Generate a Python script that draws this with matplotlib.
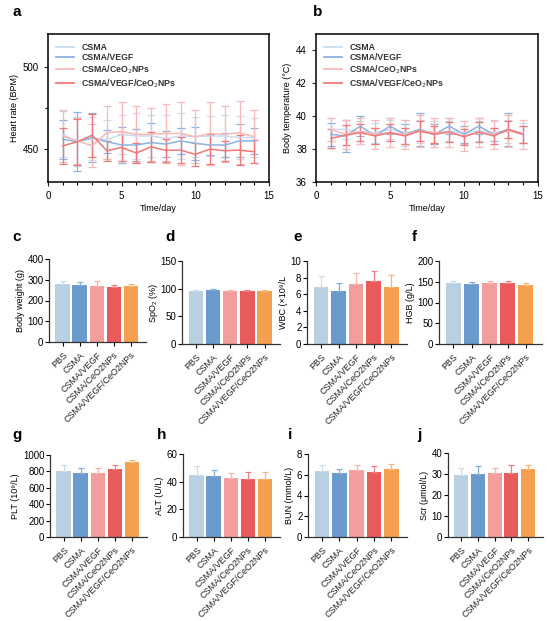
import matplotlib
matplotlib.use("Agg")
import matplotlib.pyplot as plt
from matplotlib.lines import Line2D
from matplotlib.ticker import MultipleLocator

plt.rcParams['font.family'] = ['Liberation Sans', 'DejaVu Sans']

W, H = 550, 621

# ---- data ----
days = list(range(1, 15))
series_names = ["CSMA", "CSMA/VEGF", "CSMA/CeO$_2$NPs", "CSMA/VEGF/CeO$_2$NPs"]
line_colors = ["#c9dcef", "#8db1e0", "#f8b9b9", "#f07878"]

hr_csma = [459, 454.5, 456.5, 455.7, 459, 458, 458, 456.5, 458, 457.5, 458, 458, 457, 457]
hr_vegf = [456, 454.5, 457, 454.5, 452.5, 452.5, 454, 453, 455, 453.5, 452.5, 452.5, 455, 455]
hr_ceo2 = [458, 455, 452, 460, 460.6, 459, 459, 459.5, 459.5, 457.5, 459.5, 459, 460, 457.5]
hr_vegf_ceo2 = [452, 454.5, 458.5, 449, 451, 447.6, 451.4, 449.2, 449.4, 446.8, 450, 449, 449.4, 448.4]
hr_csma_err = [14, 15, 13, 12, 12, 14, 13, 14, 14, 12, 12, 13, 13, 12]
hr_vegf_err = [12, 18, 15, 7, 11, 10, 12, 8, 8, 10, 6, 7, 10, 8]
hr_ceo2_err = [16, 14, 13, 16, 18, 17, 16, 18, 19, 16, 19, 17, 19, 16]
hr_vegf_ceo2_err = [11, 14, 13, 6, 8, 6, 9, 7, 8, 7, 9, 6, 9, 7]

bt_csma = [39.2, 39.2, 39.0, 39.0, 39.2, 39.0, 39.1, 39.0, 39.1, 39.0, 39.1, 39.0, 39.1, 39.0]
bt_vegf = [38.9, 38.8, 39.4, 38.8, 39.4, 38.9, 39.2, 38.9, 39.4, 38.9, 39.4, 38.9, 39.2, 38.9]
bt_ceo2 = [39.2, 38.9, 39.1, 38.9, 39.0, 38.9, 39.1, 39.0, 39.0, 38.8, 39.0, 38.9, 39.1, 38.9]
bt_vegf_ceo2 = [38.65, 38.85, 39.0, 38.8, 39.0, 38.8, 39.1, 38.9, 39.05, 38.75, 39.05, 38.8, 39.2, 38.9]
bt_csma_err = [0.7, 0.6, 0.7, 0.6, 0.6, 0.8, 0.7, 0.7, 0.6, 0.7, 0.6, 0.7, 0.7, 0.6]
bt_vegf_err = [0.7, 1.0, 0.6, 0.5, 0.5, 0.6, 1.0, 0.6, 0.5, 0.5, 0.5, 0.4, 1.0, 0.5]
bt_ceo2_err = [0.7, 0.9, 0.8, 0.9, 0.9, 0.9, 1.0, 0.9, 0.9, 0.9, 0.9, 0.9, 1.0, 0.9]
bt_vegf_ceo2_err = [0.6, 0.6, 0.5, 0.5, 0.5, 0.5, 0.6, 0.5, 0.6, 0.5, 0.6, 0.5, 0.5, 0.5]

groups = ["PBS", "CSMA", "CSMA/VEGF", "CSMA/CeO2NPs", "CSMA/VEGF/CeO2NPs"]
bar_colors = ["#b8d0e2", "#6a9bcc", "#f49d9d", "#e95b5b", "#f5a04e"]
err_colors = ["#c9dcec", "#86aedb", "#f6b3b3", "#ef8080", "#f7b878"]

body_weight = [278, 273, 271, 267, 268]
body_weight_err = [15, 18, 22, 8, 10]
spo2 = [96, 97, 96, 96, 96]
spo2_err = [1, 2, 1, 2, 1]
wbc = [6.9, 6.35, 7.2, 7.65, 6.85]
wbc_err = [1.3, 1.05, 1.35, 1.2, 1.5]
hgb = [147, 145, 148, 146, 143]
hgb_err = [5, 5, 4, 5, 4]
plt_count = [810, 785, 780, 825, 910]
plt_err = [65, 55, 60, 50, 35]
alt = [44.5, 44, 43, 42, 42]
alt_err = [6.5, 4.5, 3.5, 5, 5]
bun = [6.4, 6.15, 6.45, 6.3, 6.55]
bun_err = [0.55, 0.4, 0.45, 0.5, 0.5]
scr = [29.5, 30, 30.5, 30.7, 32.2]
scr_err = [3.5, 3.6, 2.2, 3.5, 2.3]


def px_axes(fig, left, top, right, bottom):
    return fig.add_axes([left / W, 1 - bottom / H, (right - left) / W, (bottom - top) / H])


fig = plt.figure(figsize=(W / 100, H / 100), dpi=100)
fig.patch.set_facecolor("white")


def line_panel(ax, ys, errs, ylim, ymajor, yminor, ylabel):
    for y, e, c in zip(ys, errs, line_colors):
        ax.errorbar(days, y, yerr=e, color=c, lw=1.1, capsize=2.8, elinewidth=0.9,
                    capthick=0.9)
    ax.set_xlim(0, 15)
    ax.set_ylim(*ylim)
    ax.xaxis.set_major_locator(MultipleLocator(5))
    ax.xaxis.set_minor_locator(MultipleLocator(1))
    ax.yaxis.set_major_locator(MultipleLocator(ymajor))
    if yminor:
        ax.yaxis.set_minor_locator(MultipleLocator(yminor))
    ax.tick_params(labelsize=7, width=0.8, length=3, color="#222222")
    ax.tick_params(which="minor", width=0.8, length=2)
    for s in ax.spines.values():
        s.set_linewidth(1.1)
    ax.set_xlabel("Time/day", fontsize=6.5, labelpad=2)
    ax.set_ylabel(ylabel, fontsize=6.5, labelpad=3)
    handles = [Line2D([], [], color=c, lw=1.3) for c in line_colors]
    leg = ax.legend(handles, series_names, loc="upper left", frameon=False,
                    fontsize=6.3, handlelength=2.1, handletextpad=0.8,
                    labelspacing=0.12, bbox_to_anchor=(0.0, 0.99))
    for t in leg.get_texts():
        t.set_fontweight("bold")
        t.set_color("#333333")


ax_a = px_axes(fig, 48, 34, 269, 182)
line_panel(ax_a, [hr_csma, hr_vegf, hr_ceo2, hr_vegf_ceo2],
           [hr_csma_err, hr_vegf_err, hr_ceo2_err, hr_vegf_ceo2_err],
           (430, 520), 50, 25, "Heart rate (BPM)")

ax_b = px_axes(fig, 316, 34, 538, 182)
line_panel(ax_b, [bt_csma, bt_vegf, bt_ceo2, bt_vegf_ceo2],
           [bt_csma_err, bt_vegf_err, bt_ceo2_err, bt_vegf_ceo2_err],
           (36, 45), 2, None, "Body temperature (°C)")


def bar_panel(ax, vals, errs, ylim, ystep, ylabel):
    x = range(len(groups))
    for i, (v, e, c, ec) in enumerate(zip(vals, errs, bar_colors, err_colors)):
        ax.bar(i, v, width=0.84, color=c)
        ax.errorbar(i, v, yerr=[[0], [e]], color=ec, capsize=2.5, elinewidth=0.9,
                    capthick=0.9)
    ax.set_xlim(-0.8, 4.9)
    ax.set_ylim(*ylim)
    ax.yaxis.set_major_locator(MultipleLocator(ystep))
    ax.set_xticks(list(x))
    ax.set_xticklabels(groups, rotation=45, ha="right", rotation_mode="anchor",
                       fontsize=6.5, color="#222222")
    ax.tick_params(axis="y", labelsize=7, width=0.8, length=3, pad=1)
    ax.tick_params(axis="x", width=0.8, length=3, pad=3)
    ax.spines["top"].set_visible(False)
    ax.spines["right"].set_visible(False)
    for s in ("left", "bottom"):
        ax.spines[s].set_linewidth(0.9)
        ax.spines[s].set_color("#333333")
    ax.set_ylabel(ylabel, fontsize=6.5, labelpad=2)


bar_specs = [
    ((49, 259, 146, 342), body_weight, body_weight_err, (0, 400), 100, "Body weight (g)"),
    ((182, 261, 280, 344), spo2, spo2_err, (0, 150), 50, "SpO₂ (%)"),
    ((307, 261, 407, 344), wbc, wbc_err, (0, 10), 2, "WBC (×10⁹/L"),
    ((439, 261, 542, 344), hgb, hgb_err, (0, 200), 50, "HGB (g/L)"),
    ((50, 455, 147, 537), plt_count, plt_err, (0, 1000), 200, "PLT (10⁹/L)"),
    ((183, 454, 280, 537), alt, alt_err, (0, 60), 20, "ALT (U/L)"),
    ((308, 454, 407, 537), bun, bun_err, (0, 8), 2, "BUN (mmol/L)"),
    ((448, 453, 543, 537), scr, scr_err, (0, 40), 10, "Scr (μmol/L)"),
]
for box, v, e, yl, st, lab in bar_specs:
    bar_panel(px_axes(fig, *box), v, e, yl, st, lab)

letters = [("a", 12, 12), ("b", 313, 12), ("c", 12, 237), ("d", 165, 237),
           ("e", 293, 237), ("f", 412, 237), ("g", 12, 435), ("h", 157, 435),
           ("i", 288, 435), ("j", 417, 435)]
for t, x, y in letters:
    fig.text(x / W, 1 - y / H, t, fontsize=11, fontweight="bold", va="center", ha="left")

fig.savefig("out.png", dpi=100, facecolor="white")
